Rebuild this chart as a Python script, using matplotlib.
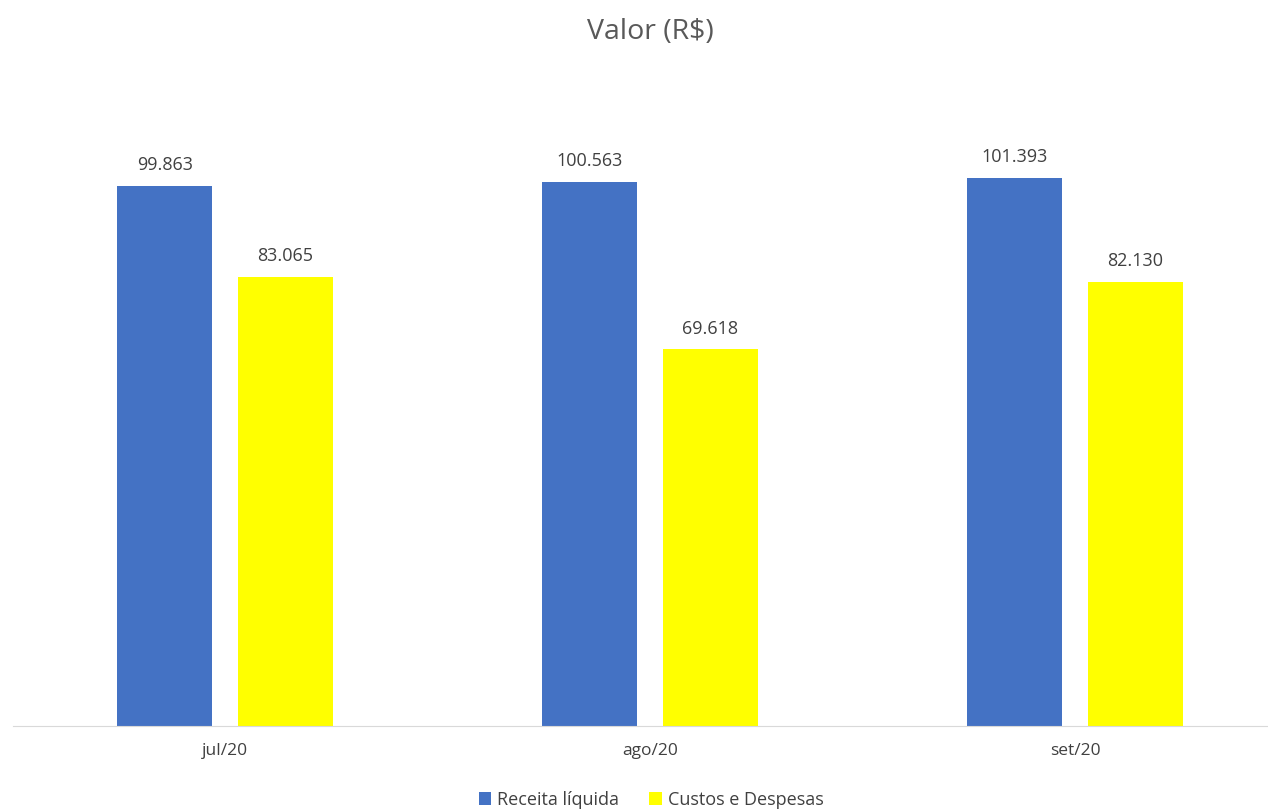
import matplotlib
matplotlib.use('Agg')
import matplotlib.pyplot as plt
import numpy as np

meses = ['jul/20', 'ago/20', 'set/20']
receita = [99863, 100563, 101393]
custos = [83065, 69618, 82130]

plt.rcParams['font.family'] = ['Open Sans', 'DejaVu Sans']
cinza = '#595959'

def fmt(v):
    return '{:,}'.format(v).replace(',', '.')

fig = plt.figure(figsize=(12.68, 8.11), dpi=100)
ax = fig.add_axes([12.5 / 1268, 85 / 811, 1275 / 1268, 649 / 811])

x = np.arange(len(meses))
w = 0.2235
off = 0.142
b1 = ax.bar(x - off, receita, w, color='#4472C4', label='Receita líquida')
b2 = ax.bar(x + off, custos, w, color='#FFFF00', label='Custos e Despesas')

for bars, vals in ((b1, receita), (b2, custos)):
    for b, v in zip(bars, vals):
        ax.text(b.get_x() + b.get_width() / 2, v + 2200, fmt(v),
                ha='center', va='bottom', fontsize=13, color='#404040')

ax.set_xlim(-0.5, 2.5)
ax.set_ylim(0, 120000)
ax.set_xticks(x)
ax.set_xticklabels(meses, fontsize=12.5, color='#404040')
ax.tick_params(axis='x', length=0, pad=12)
ax.set_yticks([])
for s in ['top', 'right', 'left']:
    ax.spines[s].set_visible(False)
ax.spines['bottom'].set_color('#d9d9d9')

fig.text(650 / 1268, 1 - 32 / 811, 'Valor (R\\$)', ha='center', va='center',
         fontsize=20.5, color=cinza)

fig.legend(loc='center', bbox_to_anchor=(651 / 1268, 1 - 800 / 811), ncol=2,
           frameon=False, fontsize=13, handlelength=0.7, handleheight=0.7,
           handletextpad=0.3, columnspacing=1.7, labelcolor='#404040')

fig.savefig('out.png', dpi=100)
